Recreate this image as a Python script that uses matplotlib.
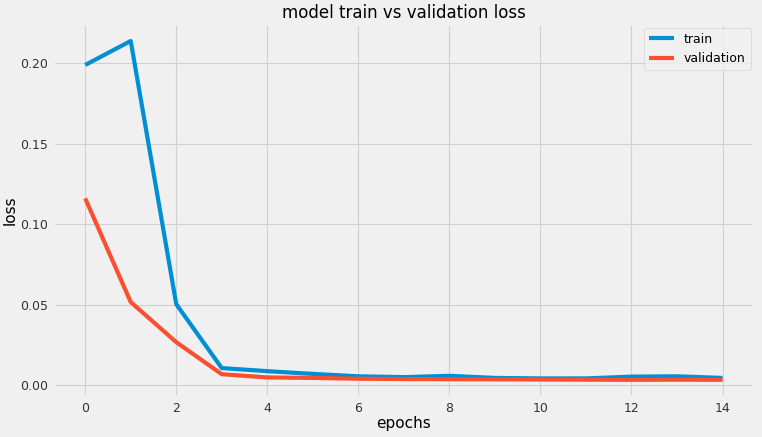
import matplotlib
matplotlib.use('Agg')
import matplotlib.pyplot as plt

plt.style.use('fivethirtyeight')

# ==================== DATA ====================
epochs = list(range(15))
train_loss = [0.1988, 0.2137, 0.0503, 0.0106, 0.0087, 0.0070, 0.0055, 0.0050,
              0.0058, 0.0045, 0.0042, 0.0042, 0.0053, 0.0055, 0.0045]
val_loss = [0.1160, 0.0516, 0.0267, 0.0068, 0.0048, 0.0045, 0.0040, 0.0038,
            0.0037, 0.0036, 0.0035, 0.0034, 0.0033, 0.0034, 0.0033]

# ==================== PLOT ====================
fig, ax = plt.subplots(figsize=(7.62, 4.37), dpi=100)
fig.subplots_adjust(left=0.07, right=0.99, top=0.945, bottom=0.092)

ax.plot(epochs, train_loss, label='train', linewidth=3)
ax.plot(epochs, val_loss, label='validation', linewidth=3)

ax.set_title('model train vs validation loss', fontsize=12, pad=4)
ax.set_xlabel('epochs', fontsize=11, labelpad=1)
ax.set_ylabel('loss', fontsize=11, labelpad=2)
ax.tick_params(labelsize=9, labelcolor='#333333')
ax.set_xticks(range(0, 15, 2))
ax.grid(True, color='#d0d0d0', linewidth=0.8)
ax.legend(loc='upper right', fontsize=9, borderaxespad=0.3)

fig.savefig('out.png', dpi=100, facecolor=fig.get_facecolor())
